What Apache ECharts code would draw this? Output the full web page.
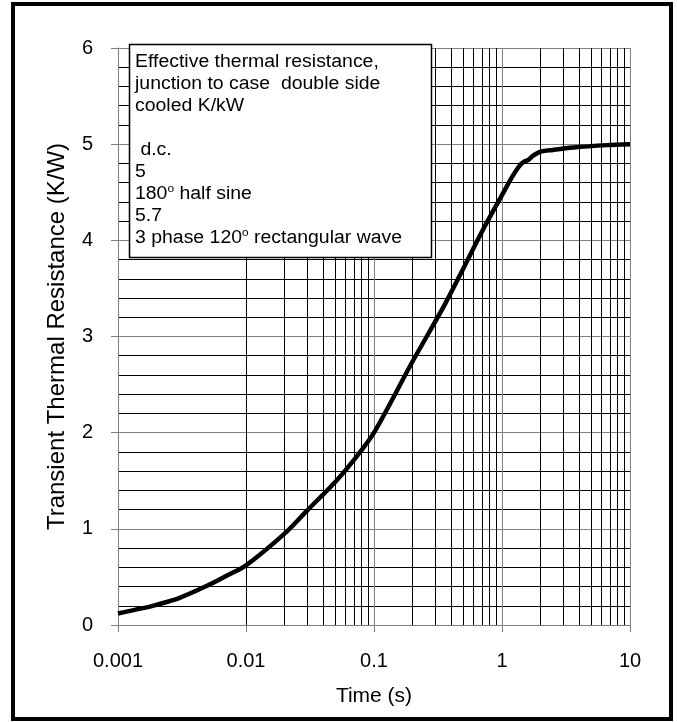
<!DOCTYPE html>
<html>
<head>
<meta charset="utf-8">
<script src="https://cdn.jsdelivr.net/npm/echarts@6/dist/echarts.min.js"></script>
<style>html,body{margin:0;padding:0;background:#fff}#c{width:677px;height:722px}</style>
</head>
<body>
<div id="c"></div>
<script>
const times = [0.001, 0.0015, 0.002, 0.003, 0.005, 0.007, 0.01, 0.02, 0.03, 0.05, 0.07, 0.1, 0.2, 0.35, 0.5, 0.71, 1.0, 1.2, 1.38, 1.5, 1.62, 1.75, 1.98, 2.5, 3.6, 6.6, 10];
const values = [0.12, 0.17, 0.21, 0.28, 0.41, 0.51, 0.62, 0.95, 1.19, 1.49, 1.72, 2.0, 2.74, 3.31, 3.71, 4.11, 4.47, 4.66, 4.78, 4.82, 4.84, 4.88, 4.92, 4.94, 4.965, 4.99, 5.0];
const xTickLabels = ['0.001', '0.01', '0.1', '1', '10'];
const xMinorLines = [0.002,0.003,0.004,0.005,0.006,0.007,0.008,0.009,
  0.02,0.03,0.04,0.05,0.06,0.07,0.08,0.09,
  0.2,0.3,0.4,0.5,0.6,0.7,0.8,0.9,
  2,3,4,5,6,7,8,9];
const yTickLabels = ['0','1','2','3','4','5','6'];
const boxLines = [
  'Effective thermal resistance,',
  'junction to case  double side',
  'cooled K/kW',
  '',
  ' d.c.',
  '5',
  '180{s|o} half sine',
  '5.7',
  '3 phase 120{s|o} rectangular wave'
];

const chart = echarts.init(document.getElementById('c'));
const FONT = '"Liberation Sans", Arial, sans-serif';
const data = times.map((t, i) => [t, values[i]]);

const boxTexts = boxLines.map((s, i) => ({
  type: 'text',
  x: 135,
  y: 62.5 + i * 21.9,
  scaleX: 1.08,
  z: 51,
  style: {
    text: s,
    fill: '#000',
    fontSize: 18,
    fontFamily: FONT,
    verticalAlign: 'middle',
    rich: { s: { fontSize: 11, verticalAlign: 'top', padding: [0, 0, 9, 0], fontFamily: FONT, fill: '#000' } }
  }
}));

chart.setOption({
  animation: false,
  backgroundColor: '#fff',
  grid: { left: 118, right: 47, top: 48, bottom: 97 },
  xAxis: {
    type: 'log',
    logBase: 10,
    min: 0.001,
    max: 10,
    name: 'Time (s)',
    nameLocation: 'middle',
    nameGap: 61,
    nameTextStyle: { fontFamily: FONT, fontSize: 21, color: '#000' },
    axisLine: { show: true, lineStyle: { color: '#808080', width: 1 } },
    axisTick: { show: true, length: 7, lineStyle: { color: '#808080' } },
    axisLabel: {
      fontFamily: FONT, fontSize: 20, color: '#000', margin: 26,
      formatter: function (v) {
        const e = Math.round(Math.log10(v)) + 3;
        return xTickLabels[e] !== undefined ? xTickLabels[e] : '';
      }
    },
    splitLine: { show: true, lineStyle: { color: '#808080', width: 1 } },
    minorTick: { show: false },
    minorSplitLine: { show: false }
  },
  yAxis: {
    type: 'value',
    min: 0,
    max: 6,
    interval: 1,
    name: 'Transient Thermal Resistance (K/W)',
    nameLocation: 'middle',
    nameGap: 49,
    nameTextStyle: { fontFamily: FONT, fontSize: 24, color: '#000' },
    axisLine: { show: true, lineStyle: { color: '#808080', width: 1 } },
    axisTick: { show: true, length: 7, inside: false, lineStyle: { color: '#808080' } },
    axisLabel: {
      fontFamily: FONT, fontSize: 20, color: '#000', margin: 25,
      formatter: function (v) { return yTickLabels[Math.round(v)] || ''; }
    },
    splitLine: { show: true, lineStyle: { color: '#808080', width: 1 } },
    minorTick: { show: false, splitNumber: 5 },
    minorSplitLine: { show: true, lineStyle: { color: '#000', width: 1 } }
  },
  series: [
    {
      type: 'line',
      data: [],
      silent: true,
      markLine: {
        silent: true,
        symbol: 'none',
        label: { show: false },
        animation: false,
        lineStyle: { color: '#000', width: 1, type: 'solid' },
        data: xMinorLines.map(v => ({ xAxis: v }))
      },
      z: 1
    },
    {
      type: 'line',
      data: data,
      smooth: 0.3,
      showSymbol: false,
      symbol: 'none',
      lineStyle: { color: '#000', width: 4.5 },
      z: 5
    }
  ],
  graphic: [
    {
      type: 'rect',
      shape: { x: 13, y: 4, width: 658, height: 715 },
      style: { fill: 'none', stroke: '#000', lineWidth: 4 },
      z: 100
    },
    {
      type: 'rect',
      shape: { x: 129.5, y: 44.5, width: 302, height: 213 },
      style: { fill: '#fff', stroke: '#000', lineWidth: 1.5 },
      z: 50
    }
  ].concat(boxTexts)
});
</script>
</body>
</html>
